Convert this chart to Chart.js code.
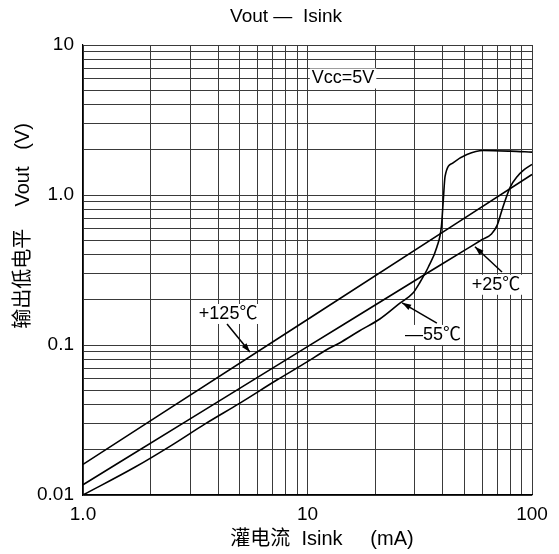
<!DOCTYPE html>
<html>
<head>
<meta charset="utf-8">
<script src="https://cdn.jsdelivr.net/npm/chart.js@4"></script>
<style>
  html, body { margin: 0; padding: 0; background: #fff; }
  #chart { display: block; }
</style>
</head>
<body>
<canvas id="chart" width="559" height="554"></canvas>
<script>
// Isink (mA) / Vout (V), uma curva por temperatura
const isink125 = [1, 10, 100];
const vout125 = [0.016, 0.148, 1.37];

const isink25 = [1, 3, 10, 30, 50, 60, 66, 70, 74, 80, 86, 92, 100];
const vout25 = [0.0117, 0.0322, 0.0975, 0.268, 0.427, 0.505, 0.55, 0.63, 0.82, 1.13, 1.33, 1.47, 1.6];

const isinkM55 = [1, 1.7, 2.5, 3.5, 5, 7.3, 10, 12, 13.9, 17, 21, 25.8, 29.5, 31.7, 34.5, 37.7, 39.5, 40.3, 41, 44.5, 51.3, 60.6, 80, 100];
const voutM55 = [0.0100, 0.0153, 0.0216, 0.0298, 0.041, 0.0584, 0.0775, 0.092, 0.1032, 0.124, 0.149, 0.19, 0.222, 0.262, 0.33, 0.45, 0.62, 0.95, 1.33, 1.64, 1.86, 1.98, 1.96, 1.93];

// grade logarítmica e rótulos dos eixos
const xGrid = [1, 2, 3, 4, 5, 6, 7, 8, 9, 10, 20, 30, 40, 50, 60, 70, 80, 90, 100];
const yGrid = [0.01, 0.02, 0.03, 0.04, 0.05, 0.06, 0.07, 0.08, 0.09,
               0.1, 0.2, 0.3, 0.4, 0.5, 0.6, 0.7, 0.8, 0.9,
               1, 2, 3, 4, 5, 6, 7, 8, 9, 10];
const xLabelValues = [1, 10, 100];
const xLabelTexts = ['1.0', '10', '100'];
const yLabelValues = [0.01, 0.1, 1, 10];
const yLabelTexts = ['0.01', '0.1', '1.0', '10'];

// anotações (em coordenadas de dados)
const noteTexts = ['+125℃', '—55℃', '+25℃', 'Vcc=5V'];
const noteAt = [[4.43, 0.161], [36.2, 0.1167], [69.2, 0.252], [14.4, 5.98]];
const arrowFrom = [[4.38, 0.138], [37.7, 0.140], [73.5, 0.307], null];
const arrowTo = [[5.54, 0.0898], [26.4, 0.191], [55.7, 0.452], null];

const FONT = '"Liberation Sans", Arial, "Noto Sans CJK SC", sans-serif';

function toPoints(xs, ys) {
  return xs.map((v, i) => ({ x: v, y: ys[i] }));
}

function lineSet(label, xs, ys) {
  return {
    label: label,
    data: toPoints(xs, ys),
    showLine: true,
    borderColor: '#000',
    borderWidth: 1.6,
    pointRadius: 0,
    cubicInterpolationMode: 'monotone'
  };
}

const notesPlugin = {
  id: 'notes',
  beforeDatasetsDraw(chart) {
    const { ctx, scales: { x, y } } = chart;
    ctx.save();
    ctx.font = '18px ' + FONT;
    ctx.textAlign = 'center';
    ctx.textBaseline = 'middle';
    noteTexts.forEach((t, i) => {
      const px = x.getPixelForValue(noteAt[i][0]);
      const py = y.getPixelForValue(noteAt[i][1]);
      const w = ctx.measureText(t).width;
      ctx.fillStyle = '#fff';
      ctx.fillRect(px - w / 2 - 2, py - 10, w + 4, 20);
      ctx.fillStyle = '#000';
      ctx.fillText(t, px, py);
    });
    ctx.restore();
  },
  afterDatasetsDraw(chart) {
    const { ctx, scales: { x, y } } = chart;
    ctx.save();
    ctx.strokeStyle = '#000';
    ctx.fillStyle = '#000';
    ctx.lineWidth = 1.5;
    arrowFrom.forEach((a, i) => {
      if (!a) return;
      const sx = x.getPixelForValue(a[0]), sy = y.getPixelForValue(a[1]);
      const tx = x.getPixelForValue(arrowTo[i][0]), ty = y.getPixelForValue(arrowTo[i][1]);
      const ang = Math.atan2(ty - sy, tx - sx);
      ctx.beginPath();
      ctx.moveTo(sx, sy);
      ctx.lineTo(tx, ty);
      ctx.stroke();
      ctx.beginPath();
      ctx.moveTo(tx, ty);
      ctx.lineTo(tx - 9 * Math.cos(ang) + 3 * Math.sin(ang), ty - 9 * Math.sin(ang) - 3 * Math.cos(ang));
      ctx.lineTo(tx - 9 * Math.cos(ang) - 3 * Math.sin(ang), ty - 9 * Math.sin(ang) + 3 * Math.cos(ang));
      ctx.closePath();
      ctx.fill();
    });
    ctx.restore();
  },
  afterDraw(chart) {
    const ctx = chart.ctx;
    ctx.save();
    ctx.fillStyle = '#000';
    ctx.textAlign = 'center';
    ctx.textBaseline = 'middle';
    // título
    ctx.font = '19px ' + FONT;
    ctx.fillText('Vout —  Isink', 286, 17);
    // eixo x
    ctx.font = '20px ' + FONT;
    ctx.fillText('灌电流  Isink     (mA)', 322, 539);
    // eixo y
    ctx.translate(23, 226);
    ctx.rotate(-Math.PI / 2);
    ctx.fillText('输出低电平    Vout   (V)', 0, 0);
    ctx.restore();
  }
};

const gridOpts = { color: '#3a3a3a', lineWidth: 1, drawTicks: false };
const borderOpts = { display: true, color: '#000', width: 1.2 };

const ctx = document.getElementById('chart').getContext('2d');
const chart = new Chart(ctx, {
  type: 'scatter',
  data: {
    datasets: [
      lineSet('+125℃', isink125, vout125),
      lineSet('+25℃', isink25, vout25),
      lineSet('-55℃', isinkM55, voutM55)
    ]
  },
  options: {
    responsive: false,
    animation: false,
    layout: { padding: { left: 0, right: 27, top: 45, bottom: 0 } },
    plugins: {
      legend: { display: false },
      tooltip: { enabled: false }
    },
    scales: {
      x: {
        type: 'logarithmic',
        min: 1,
        max: 100,
        grid: gridOpts,
        border: borderOpts,
        afterBuildTicks: (axis) => { axis.ticks = xGrid.map(v => ({ value: v })); },
        afterFit: (axis) => { axis.height = 59; },
        ticks: {
          autoSkip: false,
          maxRotation: 0,
          padding: 8,
          color: '#000',
          font: { family: FONT, size: 19 },
          callback: (v) => {
            const i = xLabelValues.indexOf(v);
            return i >= 0 ? xLabelTexts[i] : '';
          }
        }
      },
      y: {
        type: 'logarithmic',
        min: 0.01,
        max: 10,
        grid: gridOpts,
        border: borderOpts,
        afterBuildTicks: (axis) => { axis.ticks = yGrid.map(v => ({ value: v })); },
        afterFit: (axis) => { axis.width = 83; },
        ticks: {
          autoSkip: false,
          padding: 9,
          color: '#000',
          font: { family: FONT, size: 19 },
          callback: (v) => {
            const i = yLabelValues.findIndex(t => Math.abs(t - v) < t * 1e-6);
            return i >= 0 ? yLabelTexts[i] : '';
          }
        }
      }
    }
  },
  plugins: [notesPlugin]
});
</script>
</body>
</html>
